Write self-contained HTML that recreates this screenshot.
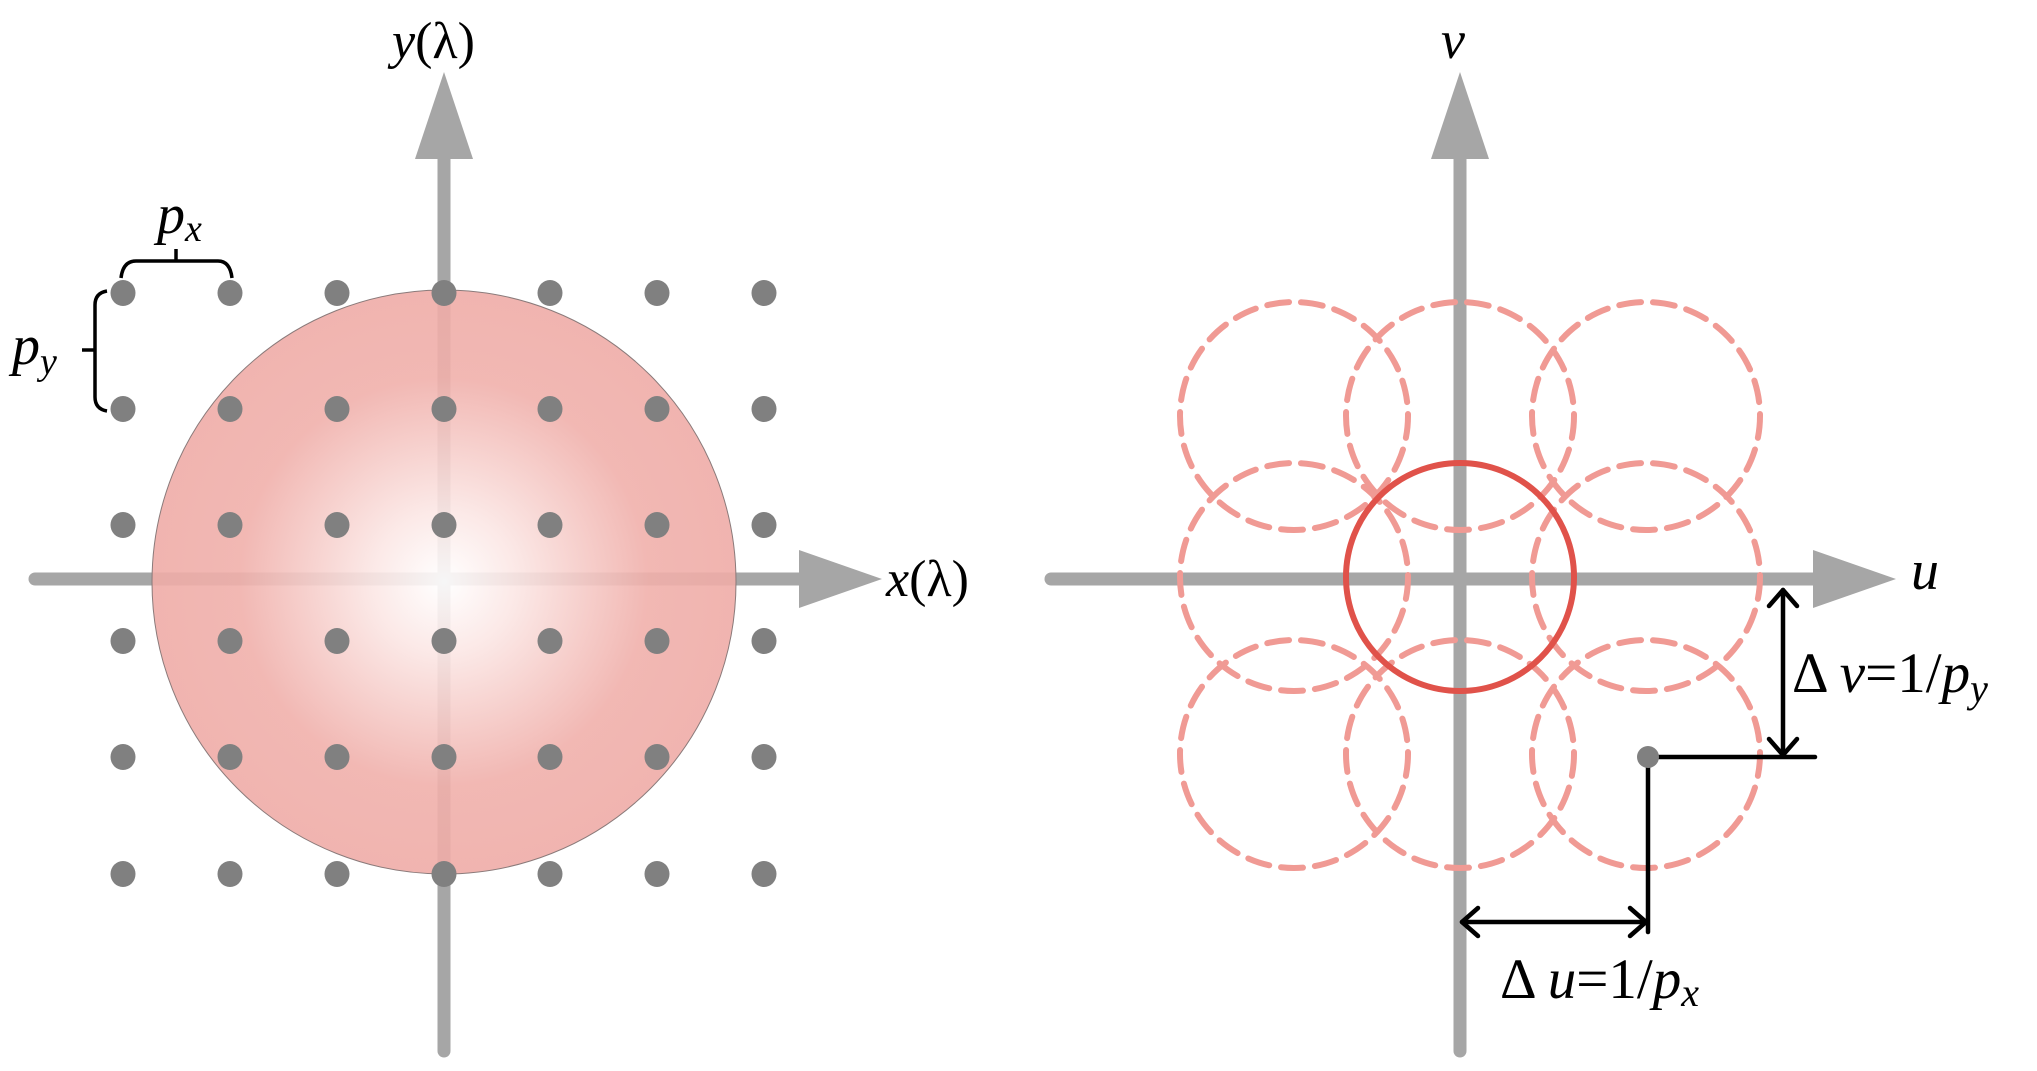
<!DOCTYPE html>
<html><head><meta charset="utf-8"><style>
html,body{margin:0;padding:0;background:#fff;}
svg{display:block;}
</style></head><body>
<svg width="2037" height="1071" viewBox="0 0 2037 1071" xmlns="http://www.w3.org/2000/svg" font-family="'Liberation Serif', 'DejaVu Serif', serif">
<defs>
<radialGradient id="g" cx="0.5" cy="0.5" r="0.5">
<stop offset="0" stop-color="#ffffff"/>
<stop offset="0.25" stop-color="#fbe6e4"/>
<stop offset="0.7" stop-color="#f0b0ab"/>
<stop offset="1" stop-color="#efaca7"/>
</radialGradient>
<g id="row">
<ellipse cx="123" cy="0" rx="12.5" ry="13"/><ellipse cx="230" cy="0" rx="12.5" ry="13"/><ellipse cx="337" cy="0" rx="12.5" ry="13"/><ellipse cx="444" cy="0" rx="12.5" ry="13"/><ellipse cx="550" cy="0" rx="12.5" ry="13"/><ellipse cx="657" cy="0" rx="12.5" ry="13"/><ellipse cx="764" cy="0" rx="12.5" ry="13"/>
</g>
</defs>
<!-- Left panel axes -->
<g stroke="#a6a6a6" stroke-width="13" stroke-linecap="round" fill="none">
<line x1="444" y1="150" x2="444" y2="1051"/>
<line x1="35" y1="579" x2="805" y2="579"/>
</g>
<polygon points="444,72 415,159 473,159" fill="#a6a6a6"/>
<polygon points="882,579 799,550 799,608" fill="#a6a6a6"/>
<circle cx="444" cy="582" r="292" fill="url(#g)" fill-opacity="0.9" stroke="#8a7a7a" stroke-width="1"/>
<g fill="#808080">
<use href="#row" y="293"/><use href="#row" y="409"/><use href="#row" y="525"/><use href="#row" y="641"/><use href="#row" y="757"/><use href="#row" y="874"/>
</g>
<!-- braces -->
<g stroke="#000" stroke-width="3.5" fill="none">
<path d="M121,278 Q123,261 136,261 L218,261 Q230,261 232,278"/>
<line x1="176" y1="261" x2="176" y2="249"/>
<path d="M107,291 Q95,293 95,305 L95,397 Q95,409 107,411"/>
<line x1="95" y1="350" x2="82" y2="350"/>
</g>
<text x="157" y="233" font-size="56" font-style="italic">p<tspan font-size="38" dy="8">x</tspan></text>
<text x="12" y="364" font-size="56" font-style="italic">p<tspan font-size="38" dy="10">y</tspan></text>
<text x="392" y="58" font-size="52"><tspan font-style="italic">y</tspan>(λ)</text>
<text x="886" y="596" font-size="52"><tspan font-style="italic">x</tspan>(λ)</text>

<!-- Right panel axes -->
<g stroke="#a6a6a6" stroke-width="13" stroke-linecap="round" fill="none">
<line x1="1460" y1="150" x2="1460" y2="1051"/>
<line x1="1051" y1="579" x2="1820" y2="579"/>
</g>
<polygon points="1460,72 1431,159 1489,159" fill="#a6a6a6"/>
<polygon points="1896,579 1813,550 1813,608" fill="#a6a6a6"/>
<g fill="none" stroke="#f09a94" stroke-width="6" stroke-dasharray="22 12" stroke-linecap="round">
<circle cx="1294" cy="416" r="114"/><circle cx="1460" cy="416" r="114"/><circle cx="1646" cy="416" r="114"/>
<circle cx="1294" cy="577" r="114"/><circle cx="1646" cy="577" r="114"/>
<circle cx="1294" cy="754" r="114"/><circle cx="1460" cy="754" r="114"/><circle cx="1646" cy="754" r="114"/>
</g>
<circle cx="1460" cy="577" r="114" fill="none" stroke="#e0524a" stroke-width="6"/>
<!-- black lines -->
<g stroke="#000" stroke-width="4.5" fill="none" stroke-linecap="round" stroke-linejoin="round">
<line x1="1648" y1="757" x2="1815" y2="757"/>
<line x1="1648" y1="757" x2="1648" y2="932"/>
<line x1="1462" y1="922" x2="1646" y2="922"/>
<polyline points="1478,908 1462,922 1478,936"/>
<polyline points="1630,908 1646,922 1630,936"/>
<line x1="1783" y1="590" x2="1783" y2="755"/>
<polyline points="1769,606 1783,590 1797,606"/>
<polyline points="1769,739 1783,755 1797,739"/>
</g>
<circle cx="1648" cy="757" r="11" fill="#808080"/>
<text x="1441" y="58" font-size="54" font-style="italic">v</text>
<text x="1911" y="589" font-size="56" font-style="italic">u</text>
<text x="1792" y="692" font-size="57">Δ <tspan font-style="italic">v</tspan>=1/<tspan font-style="italic">p</tspan><tspan font-style="italic" font-size="40" dy="10">y</tspan></text>
<text x="1500" y="998" font-size="57">Δ <tspan font-style="italic">u</tspan>=1/<tspan font-style="italic">p</tspan><tspan font-style="italic" font-size="40" dy="8">x</tspan></text>
</svg>
</body></html>
